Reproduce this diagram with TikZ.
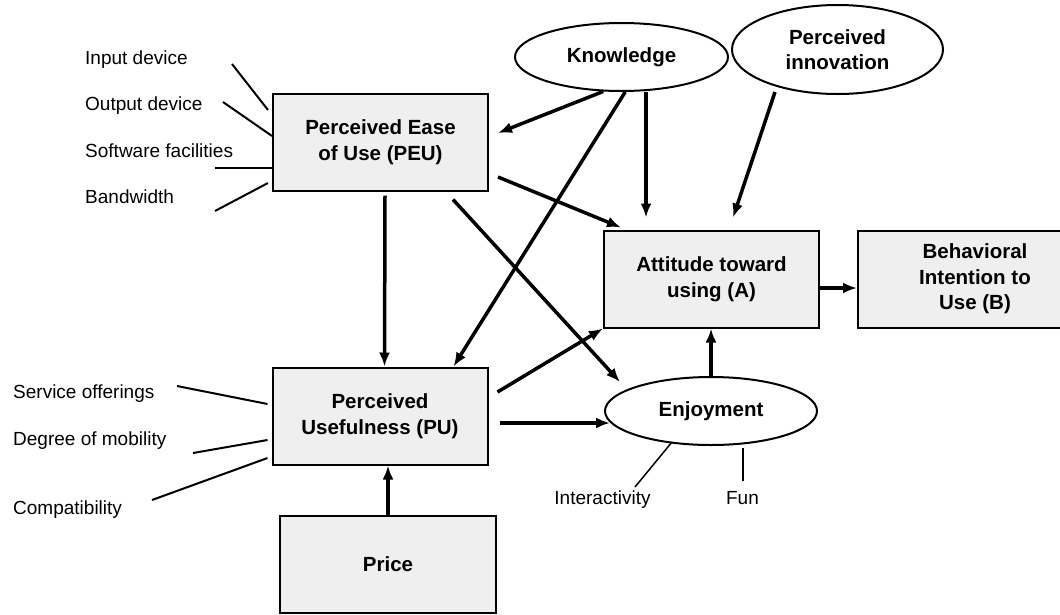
\documentclass[tikz,border=0pt]{standalone}
\usepackage{fontspec}
\setmainfont{Liberation Sans}
\usetikzlibrary{shapes.geometric,arrows.meta}
\definecolor{boxgray}{RGB}{239,239,239}

\begin{document}
\begin{tikzpicture}[x=1pt, y=-1pt,
  box/.style={draw, line width=2pt, fill=boxgray, minimum width=215pt, minimum height=97pt, inner sep=0pt, align=center, font=\fontsize{20.5}{25.5}\selectfont\bfseries},
  oval/.style={ellipse, draw, line width=2pt, fill=white, inner sep=0pt, align=center, font=\fontsize{20.5}{25.5}\selectfont\bfseries},
  arr/.style={line width=3.5pt, -{Latex[length=14pt,width=11pt]}},
  factor/.style={anchor=base west, inner sep=0pt, font=\fontsize{19}{22}\selectfont},
  factorline/.style={line width=2pt}]
\clip (0,0) rectangle (1060,614);

% boxes and ovals
\node[box] (peu) at (380.5,142) {Perceived Ease\\of Use (PEU)};
\node[box] (pu) at (380,416) {Perceived\\Usefulness (PU)};
\node[box, minimum width=216pt] (price) at (388,564.5) {Price};
\node[box] (att) at (711.5,279) {Attitude toward\\using (A)};
\node[box, minimum width=234pt] (beh) at (975,279) {Behavioral\\Intention to\\Use (B)};
\node[oval, minimum width=213pt, minimum height=68pt] (know) at (621.5,57) {Knowledge};
\node[oval, minimum width=211pt, minimum height=89pt] (innov) at (837.5,49.5) {Perceived\\innovation};
\node[oval, minimum width=212pt, minimum height=68pt] (enj) at (711,411) {Enjoyment};

% factors
\foreach \n/\t/\x/\y in {inp/Input device/85/64, outp/Output device/85/110, soft/Software facilities/85/157, band/Bandwidth/85/203, serv/Service offerings/13/398, deg/Degree of mobility/13/445, comp/Compatibility/13/514}{
  \node[factor] (\n) at (\x,\y) {\t};
}
\node[factor, anchor=base] (inter) at (602.5,504) {Interactivity};
\node[factor, anchor=base] (fun) at (742.5,504) {Fun};

\coordinate (inp-end) at (232,64);
\coordinate (outp-end) at (223,102);
\coordinate (soft-end) at (215,168);
\coordinate (band-end) at (215,211);
\coordinate (serv-end) at (177,386);
\coordinate (deg-end) at (193,453);
\coordinate (comp-end) at (152,500);
\coordinate (inter-end) at (635,487);
\coordinate (fun-end) at (743,481);

\draw[factorline] (inp-end) -- ([shift={(-4pt,-17.5pt)}]peu.north west);
\draw[factorline] (outp-end) -- ([yshift=6pt]peu.west);
\draw[factorline] (soft-end) -- ([yshift=-26pt]peu.west);
\draw[factorline] (band-end) -- ([shift={(-4pt,-41pt)}]peu.west);
\draw[factorline] (serv-end) -- ([shift={(-4pt,12pt)}]pu.west);
\draw[factorline] (deg-end) -- ([shift={(-4pt,-24pt)}]pu.west);
\draw[factorline] (comp-end) -- ([shift={(-4pt,-42pt)}]pu.west);
\draw[line width=1.5pt] (inter-end) -- ([shift={(-39pt,-31pt)}]enj.center);
\draw[line width=1.5pt] (fun-end) -- ([shift={(32pt,-37pt)}]enj.center);

% arrows
\draw[arr] (know.242) -- ([shift={(9pt,9pt)}]peu.east);
\draw[arr] (know.276) -- ([xshift=-35pt]pu.north east);
\draw[arr] ([xshift=24.5pt]know.south) -- ([shift={(-65.5pt,12pt)}]att.north);
\draw[arr] ([shift={(-62.5pt,-42.5pt)}]innov.center) -- ([shift={(21.5pt,12pt)}]att.north);
\draw[arr] ([shift={(9pt,-35pt)}]peu.east) -- ([shift={(18pt,2pt)}]att.north west);
\draw[arr] ([shift={(-36pt,-8pt)}]peu.south east) -- ([shift={(-91pt,29pt)}]enj.center);
\draw[arr] ([shift={(4.5pt,-4pt)}]peu.south) -- ([xshift=4.5pt]pu.north);
\draw[arr] ([shift={(9pt,24pt)}]pu.east) -- (att.south west);
\draw[arr] ([shift={(11pt,-7pt)}]pu.east) -- ([shift={(-101pt,-12pt)}]enj.center);
\draw[arr] (enj.north) -- (enj.north |- att.south);
\draw[arr] ([yshift=-9pt]att.east) -- ([yshift=-9pt]beh.west);
\draw[arr] (price.north) -- (price.north |- pu.south);
\end{tikzpicture}
\end{document}
